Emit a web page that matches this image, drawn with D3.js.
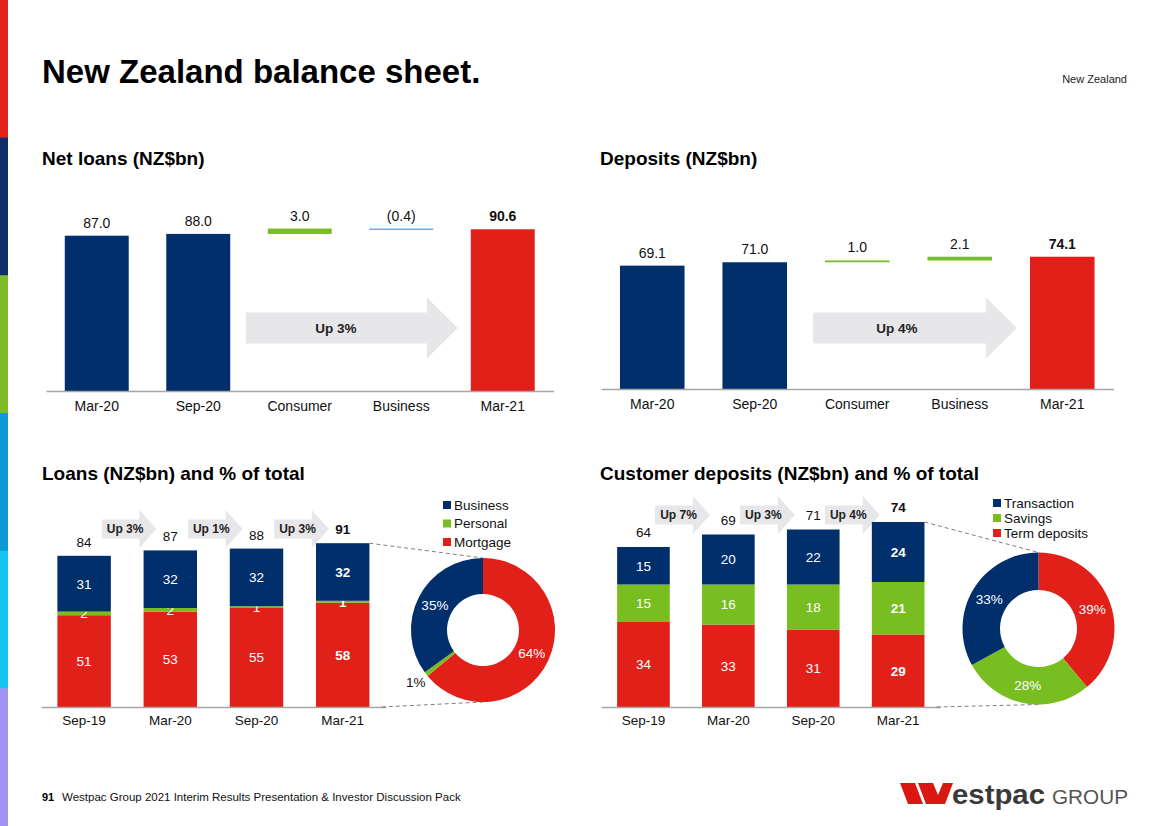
<!DOCTYPE html>
<html><head><meta charset="utf-8">
<script src="https://cdn.jsdelivr.net/npm/d3@7"></script>
<style>
html,body{margin:0;padding:0;background:#fff;}
svg{display:block;font-family:"Liberation Sans",Arial,Helvetica,sans-serif;}
</style></head>
<body><svg id="c" width="1168" height="826"></svg>
<script>
// ---------------- DATA ----------------
const waterfallCats = ["Mar-20", "Sep-20", "Consumer", "Business", "Mar-21"];
const waterfallKinds = ["total", "total", "delta", "delta", "total"];
const netLoanVals = [87.0, 88.0, 3.0, -0.4, 90.6];
const netLoanLabels = ["87.0", "88.0", "3.0", "(0.4)", "90.6"];
const depositVals = [69.1, 71.0, 1.0, 2.1, 74.1];
const depositLabels = ["69.1", "71.0", "1.0", "2.1", "74.1"];

const periods = ["Sep-19", "Mar-20", "Sep-20", "Mar-21"];
const loanMortgage = [51, 53, 55, 58];
const loanPersonal = [2, 2, 1, 1];
const loanBusiness = [31, 32, 32, 32];
const loanTotals = [84, 87, 88, 91];
const loanGrowth = ["Up 3%", "Up 1%", "Up 3%"];
const loanMixNames = ["Mortgage", "Personal", "Business"];
const loanMix = [64, 1, 35];

const depTerm = [34, 33, 31, 29];
const depSavings = [15, 16, 18, 21];
const depTransaction = [15, 20, 22, 24];
const depTotals = [64, 69, 71, 74];
const depGrowth = ["Up 7%", "Up 3%", "Up 4%"];
const depMixNames = ["Term deposits", "Savings", "Transaction"];
const depMix = [39, 28, 33];

// ---------------- STYLE ----------------
const C = {navy:"#002F6C", red:"#E2201A", green:"#78BE20", lblue:"#4AA6DB",
           arrow:"#E7E6E9", axis:"#A6A6A6", dash:"#7F7F7F"};
const svg = d3.select("#c");

// left stripe
const stripe = ["#E3211B","#0F2D6B","#7DBB2B","#0E9BD3","#17C4EF","#A094F0"];
svg.selectAll("rect.stripe").data(stripe).join("rect").attr("class","stripe")
  .attr("x",0).attr("width",8)
  .attr("y",(d,i)=>i*826/6).attr("height",826/6+0.5).attr("fill",d=>d);

// titles
svg.append("text").attr("x",42).attr("y",83).attr("font-size",33).attr("font-weight","bold")
  .text("New Zealand balance sheet.");
svg.append("text").attr("x",1127).attr("y",83).attr("font-size",11).attr("text-anchor","end")
  .attr("fill","#222").text("New Zealand");
[["Net loans (NZ$bn)",42,165],["Deposits (NZ$bn)",600,165],
 ["Loans (NZ$bn) and % of total",42,480],["Customer deposits (NZ$bn) and % of total",600,480]]
 .forEach(([t,x,y])=>svg.append("text").attr("x",x).attr("y",y).attr("font-size",19)
   .attr("font-weight","bold").text(t));

function arrowPath(x0, x1, cy, bodyH, headH, headL){
  const p = d3.path();
  p.moveTo(x0, cy-bodyH/2); p.lineTo(x1-headL, cy-bodyH/2); p.lineTo(x1-headL, cy-headH/2);
  p.lineTo(x1, cy); p.lineTo(x1-headL, cy+headH/2); p.lineTo(x1-headL, cy+bodyH/2);
  p.lineTo(x0, cy+bodyH/2); p.closePath();
  return p.toString();
}

// ---------------- WATERFALL ----------------
function waterfall(opt){
  const g = svg.append("g");
  const x = d3.scaleBand().domain(waterfallCats).range(opt.xr).paddingInner(0.37).paddingOuter(0.185);
  const y = d3.scaleLinear().domain([0,100]).range([opt.base, opt.base-178.5]);
  let run = 0;
  const segs = opt.vals.map((v,i)=>{
    if (waterfallKinds[i]==="total"){ run=v; return {c:waterfallCats[i],y0:0,y1:v,v,i}; }
    const s=run; run+=v; return {c:waterfallCats[i],y0:s,y1:run,v,i};
  });
  const cy = opt.arrowY;
  g.append("path").attr("d",arrowPath(x("Consumer")+opt.ax0, x("Mar-21")+opt.ax1, cy, 31, 61, 31))
    .attr("fill",C.arrow);
  g.append("text").attr("x",opt.atx).attr("y",cy).attr("dy","0.35em").attr("text-anchor","middle")
    .attr("font-size",13.5).attr("font-weight","bold").attr("fill","#222").text(opt.arrowText);
  g.selectAll("rect.b").data(segs).join("rect")
    .attr("x",d=>x(d.c)).attr("width",x.bandwidth())
    .attr("y",d=>y(Math.max(d.y0,d.y1)))
    .attr("height",d=>Math.max(Math.abs(y(d.y0)-y(d.y1)), 1.3))
    .attr("fill",d=>{
      if (waterfallKinds[d.i]==="total") return d.i===waterfallCats.length-1 ? C.red : C.navy;
      return d.v>=0 ? C.green : C.lblue;
    });
  g.selectAll("text.v").data(segs).join("text")
    .attr("x",d=>x(d.c)+x.bandwidth()/2).attr("y",d=>y(Math.max(d.y0,d.y1))-8)
    .attr("text-anchor","middle").attr("font-size",14).attr("fill","#111")
    .attr("font-weight",d=>d.i===waterfallCats.length-1?"bold":"normal")
    .text(d=>opt.labels[d.i]);
  const ax = g.append("g").attr("transform",`translate(0,${opt.base})`)
    .call(d3.axisBottom(x).tickSize(0).tickPadding(10));
  ax.select(".domain").attr("stroke",C.axis).attr("stroke-width",1.5);
  ax.selectAll("text").attr("font-size",14).attr("fill","#111")
    .attr("font-family","Liberation Sans, Arial, sans-serif");
}
waterfall({vals:netLoanVals, labels:netLoanLabels, xr:[46,553.5], base:391, arrowY:328,
  ax0:-22, ax1:-13, atx:336, arrowText:"Up 3%"});
waterfall({vals:depositVals, labels:depositLabels, xr:[601,1113.5], base:389, arrowY:328,
  ax0:-12, ax1:-13, atx:897, arrowText:"Up 4%"});

// ---------------- STACKED + DONUT ----------------
function stacked(opt){
  const g = svg.append("g");
  const rows = periods.map((p,i)=>{ const r={period:p}; opt.series.forEach(s=>r[s.key]=s.vals[i]); return r; });
  const keys = opt.series.map(s=>s.key);
  const stack = d3.stack().keys(keys)(rows);
  const x = d3.scaleBand().domain(periods).range(opt.xr).paddingInner(0.38).paddingOuter(0.19);
  const y = d3.scaleLinear().domain([0,100]).range([opt.base, opt.base-opt.k*100]);
  const bw = x.bandwidth();
  const last = periods[periods.length-1];
  periods.slice(0,-1).forEach((p,i)=>{
    const x0 = x(p)+bw*opt.as, x1 = x(periods[i+1])+bw*opt.ae;
    g.append("path").attr("d",arrowPath(x0,x1,opt.arrowY,19,38,17)).attr("fill",C.arrow);
    g.append("text").attr("x",(x0+x1)/2-4).attr("y",opt.arrowY).attr("dy","0.35em")
      .attr("text-anchor","middle").attr("font-size",12).attr("font-weight","bold").attr("fill","#222")
      .text(opt.growth[i]);
  });
  stack.forEach((layer,li)=>{
    g.selectAll(null).data(layer).join("rect")
      .attr("x",d=>x(d.data.period)).attr("width",bw)
      .attr("y",d=>y(d[1])).attr("height",d=>y(d[0])-y(d[1]))
      .attr("fill",opt.series[li].color);
    g.selectAll(null).data(layer).join("text")
      .attr("x",d=>x(d.data.period)+bw/2).attr("y",d=>(y(d[0])+y(d[1]))/2).attr("dy","0.36em")
      .attr("text-anchor","middle").attr("font-size",13.5).attr("fill","#fff")
      .attr("font-weight",d=>d.data.period===last?"bold":"normal")
      .text(d=>d[1]-d[0]);
  });
  g.selectAll("text.tot").data(periods).join("text")
    .attr("x",p=>x(p)+bw/2).attr("y",(p,i)=>y(opt.totals[i])-opt.totGap)
    .attr("text-anchor","middle").attr("font-size",13.5).attr("fill","#111")
    .attr("font-weight",p=>p===last?"bold":"normal").text((p,i)=>opt.totals[i]);
  const ax = g.append("g").attr("transform",`translate(0,${opt.base})`)
    .call(d3.axisBottom(x).tickSize(0).tickPadding(8));
  ax.select(".domain").attr("stroke",C.axis).attr("stroke-width",1.5);
  ax.selectAll("text").attr("font-size",13.5).attr("fill","#111")
    .attr("font-family","Liberation Sans, Arial, sans-serif");
  const leg = opt.series.slice().reverse();
  leg.forEach((s,i)=>{
    const ly = opt.legY + i*opt.legDy;
    g.append("rect").attr("x",opt.legX).attr("y",ly-4).attr("width",8).attr("height",8).attr("fill",s.color);
    g.append("text").attr("x",opt.legX+11).attr("y",ly).attr("dy","0.36em").attr("font-size",13.5)
      .attr("fill","#111").text(s.name);
  });
  const [cx,cy] = opt.center;
  const pie = d3.pie().sort(null).value(d=>d.v)(opt.mix.map((v,i)=>({v,name:opt.mixNames[i],color:opt.mixColors[i],out:opt.mixOut[i]})));
  const arc = d3.arc().innerRadius(opt.rIn).outerRadius(opt.rOut);
  const lab = d3.arc().innerRadius((opt.rIn+opt.rOut)/2).outerRadius((opt.rIn+opt.rOut)/2);
  const labOut = d3.arc().innerRadius(opt.rOut+13).outerRadius(opt.rOut+13);
  const xr = x(last)+bw;
  g.append("line").attr("x1",xr).attr("y1",y(opt.totals[opt.totals.length-1])).attr("x2",cx).attr("y2",cy-opt.rOut)
    .attr("stroke",C.dash).attr("stroke-dasharray","4,3");
  g.append("line").attr("x1",opt.xr[1]-4).attr("y1",opt.base).attr("x2",cx).attr("y2",cy+opt.rOut)
    .attr("stroke",C.dash).attr("stroke-dasharray","4,3");
  const dg = g.append("g").attr("transform",`translate(${cx},${cy})`);
  dg.selectAll("path").data(pie).join("path").attr("d",arc).attr("fill",d=>d.data.color);
  dg.selectAll("text").data(pie).join("text")
    .attr("transform",d=>`translate(${(d.data.out?labOut:lab).centroid(d)})`)
    .attr("dy","0.36em").attr("text-anchor","middle").attr("font-size",13.5)
    .attr("fill",d=>d.data.out?"#111":"#fff").text(d=>d.data.v+"%");
}
stacked({
  series:[{key:"mortgage",name:"Mortgage",vals:loanMortgage,color:C.red},
          {key:"personal",name:"Personal",vals:loanPersonal,color:C.green},
          {key:"business",name:"Business",vals:loanBusiness,color:C.navy}],
  totals:loanTotals, growth:loanGrowth, xr:[41,385.8], base:707, k:1.8, totGap:9,
  arrowY:529, as:0.83, ae:0.24, legX:443, legY:505, legDy:18.5,
  center:[483,630], rIn:36, rOut:72, mix:loanMix, mixNames:loanMixNames,
  mixColors:[C.red,C.green,C.navy], mixOut:[false,true,false]
});
stacked({
  series:[{key:"term",name:"Term deposits",vals:depTerm,color:C.red},
          {key:"savings",name:"Savings",vals:depSavings,color:C.green},
          {key:"transaction",name:"Transaction",vals:depTransaction,color:C.navy}],
  totals:depTotals, growth:depGrowth, xr:[601,940.6], base:707, k:2.5, totGap:10,
  arrowY:515, as:0.72, ae:0.15, legX:993, legY:503, legDy:15,
  center:[1038.5,628.5], rIn:38.5, rOut:76, mix:depMix, mixNames:depMixNames,
  mixColors:[C.red,C.green,C.navy], mixOut:[false,false,false]
});

// ---------------- FOOTER ----------------
svg.append("text").attr("x",42).attr("y",801).attr("font-size",11).attr("font-weight","bold").text("91");
svg.append("text").attr("x",62).attr("y",801).attr("font-size",11.5).attr("fill","#111")
  .text("Westpac Group 2021 Interim Results Presentation & Investor Discussion Pack");
const logo = svg.append("g");
[[[900,783],[915,783],[923,804],[908,804]],
 [[918,783],[933,783],[938,795],[943,783],[953,783],[945,804],[926,804]]]
 .forEach(pts=>logo.append("path").attr("d",d3.line()(pts)+"Z").attr("fill","#DA1710"));
logo.append("text").attr("x",952).attr("y",804).attr("font-size",28).attr("font-weight","bold")
  .attr("fill","#3A3A3A").attr("textLength",93).attr("lengthAdjust","spacingAndGlyphs").text("estpac");
logo.append("text").attr("x",1052).attr("y",804).attr("font-size",20.5)
  .attr("fill","#555").attr("textLength",76).attr("lengthAdjust","spacingAndGlyphs").text("GROUP");
</script>
</body></html>
